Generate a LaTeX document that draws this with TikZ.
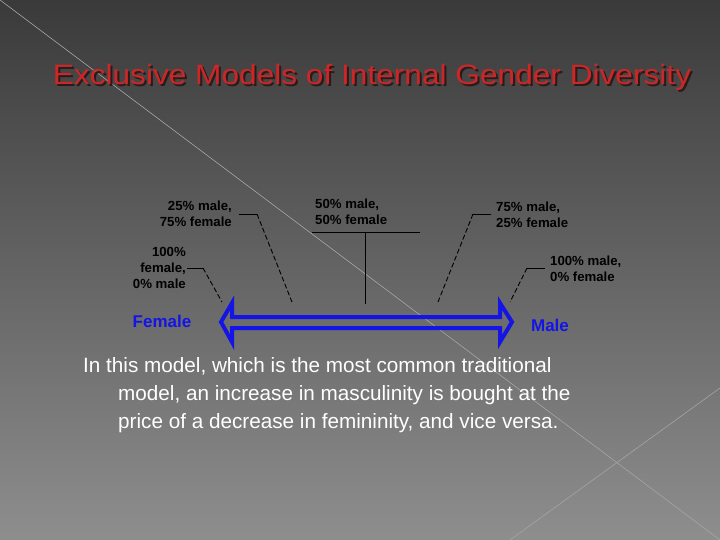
\documentclass[tikz,border=0pt]{standalone}
\usepackage{fontspec}
\setmainfont{Liberation Sans}
\definecolor{bgtop}{RGB}{58,58,58}
\definecolor{bgbot}{RGB}{142,142,142}
\definecolor{diag}{RGB}{165,165,165}
\definecolor{titlered}{RGB}{205,38,38}
\definecolor{titleshadow}{RGB}{45,25,25}
\definecolor{arrowblue}{RGB}{20,20,230}
\newcommand{\titletext}{\scalebox{1.13}[1]{Exclusive Models of Internal Gender Diversity}}
\begin{document}
\begin{tikzpicture}[x=1pt,y=-1pt,
  lbl/.style={font=\fontsize{13.2}{16}\selectfont\bfseries, text=black, inner sep=0pt},
  sidelbl/.style={font=\fontsize{17}{20}\selectfont\bfseries, text=arrowblue, inner sep=0pt},
  body/.style={font=\fontsize{20.7}{28}\selectfont, text=white, inner sep=0pt, anchor=base west},
  tick/.style={line width=0.9pt, black},
  dtick/.style={line width=0.9pt, black, dash pattern=on 5pt off 2.5pt},
  diagline/.style={line width=0.6pt, diag}]
\useasboundingbox (0,0) rectangle (720,540);
\shade[top color=bgtop, bottom color=bgbot] (0,0) rectangle (720,540);
\draw[diagline] (0,0) -- (720,540);
\draw[diagline] (720,388) -- (510,540);

% title with drop shadow (one node)
\node[font=\fontsize{28}{32}\selectfont, inner sep=0pt] (title) at (372,78)
  {\makebox[0pt][l]{\hspace{2pt}\raisebox{-2pt}{\color{titleshadow}\titletext}}\color{titlered}\titletext};

% labels
\node[lbl, align=right, anchor=east] (f100) at (186,268) {100\%\\female,\\0\% male};
\node[lbl, align=right, anchor=east] (m25) at (232,214) {25\% male,\\75\% female};
\node[lbl, align=left, anchor=west] (m50) at (315,211.5) {50\% male,\\50\% female};
\node[lbl, align=left, anchor=west] (m75) at (496,214.5) {75\% male,\\25\% female};
\node[lbl, align=left, anchor=west] (m100) at (550,268.5) {100\% male,\\0\% female};

% connectors
\coordinate (f100k) at (203,268); \coordinate (f100e) at (222,302);
\coordinate (m25s) at (239,214); \coordinate (m25k) at (257,214); \coordinate (m25e) at (292,302);
\coordinate (m50s) at (312,232); \coordinate (m50r) at (420,232); \coordinate (m50k) at (365,232); \coordinate (m50e) at (365,304);
\coordinate (m75s) at (491,214); \coordinate (m75k) at (473,214); \coordinate (m75e) at (438,302);
\coordinate (m100s) at (545,268); \coordinate (m100k) at (527,268); \coordinate (m100e) at (510,302);

\draw[tick] (f100.east) ++(1,0) -- (f100k);
\draw[dtick] (f100k) -- (f100e);
\draw[tick] (m25s) -- (m25k);
\draw[dtick] (m25k) -- (m25e);
\draw[tick] (m50s) -- (m50r);
\draw[tick] (m50k) -- (m50e);
\draw[tick] (m75s) -- (m75k);
\draw[dtick] (m75k) -- (m75e);
\draw[tick] (m100s) -- (m100k);
\draw[dtick] (m100k) -- (m100e);

% double arrow
\draw[arrowblue, line width=4pt, line join=miter]
  (221,322) -- (232,303) -- (232,317) -- (500,317) -- (500,303) -- (512,322)
  -- (500,342) -- (500,328) -- (232,328) -- (232,342) -- cycle;

\node[sidelbl] (female) at (162,321) {Female};
\node[sidelbl] (male) at (550,325) {Male};

% body text
\node[body] (b1) at (83,372) {In this model, which is the most common traditional};
\node[body] (b2) at (118,400) {model, an increase in masculinity is bought at the};
\node[body] (b3) at (118,428) {price of a decrease in femininity, and vice versa.};
\end{tikzpicture}
\end{document}
